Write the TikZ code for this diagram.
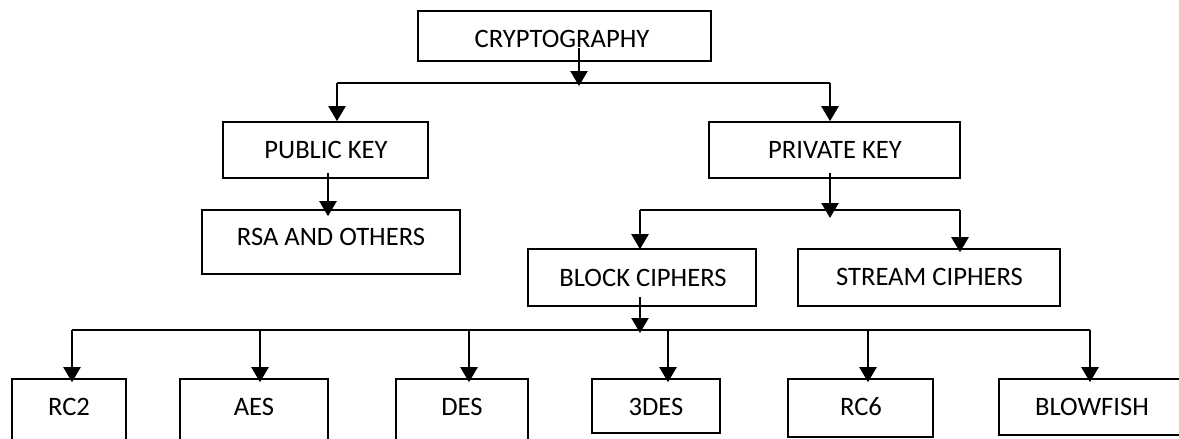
\documentclass[tikz,border=0pt]{standalone}
\usepackage{fontspec}
\setmainfont{Carlito}
\usetikzlibrary{arrows.meta}
\begin{document}
\begin{tikzpicture}[x=1pt,y=-1pt,
  box/.style={draw=black, line width=1.6pt, rectangle, inner sep=0pt},
  lbl/.style={inner sep=0pt, font=\fontsize{26.6}{30}\selectfont, anchor=center},
  link/.style={line width=1.4pt},
  arr/.style={line width=2.3pt, -{Triangle[width=17pt,length=15pt]}}]
\clip (0,0) rectangle (1179,439);
\fill[white] (0,0) rectangle (1179,439);
% boxes
\node[box, minimum width=293pt, minimum height=50pt] (crypto) at (564.5,36) {};
\node[box, minimum width=205pt, minimum height=56pt] (pub) at (325.5,150) {};
\node[box, minimum width=251pt, minimum height=56pt] (priv) at (834.5,150) {};
\node[box, minimum width=258pt, minimum height=64pt] (rsa) at (331,242) {};
\node[box, minimum width=228pt, minimum height=57pt] (block) at (642,277.5) {};
\node[box, minimum width=262pt, minimum height=57pt] (stream) at (929,277.5) {};
\node[box, minimum width=114pt, minimum height=71pt] (rc2) at (69,414.5) {};
\node[box, minimum width=148pt, minimum height=71pt] (aes) at (254,414.5) {};
\node[box, minimum width=132pt, minimum height=71pt] (des) at (462,414.5) {};
\node[box, minimum width=128pt, minimum height=54pt] (tdes) at (656,406) {};
\node[box, minimum width=145pt, minimum height=58pt] (rc6) at (860.5,408) {};
\node[box, minimum width=191pt, minimum height=56pt] (blow) at (1094.5,407) {};
% labels
\node[lbl] (cryptoT) at (562,39) {CRYPTOGRAPHY};
\node[lbl] (pubT) at (326,150) {PUBLIC KEY};
\node[lbl] (privT) at (835,150) {PRIVATE KEY};
\node[lbl] (rsaT) at (331,237) {RSA AND OTHERS};
\node[lbl] (blockT) at (643,278) {BLOCK CIPHERS};
\node[lbl] (streamT) at (929.5,277) {STREAM CIPHERS};
\node[lbl] (rc2T) at (69,407) {RC2};
\node[lbl] (aesT) at (254,407) {AES};
\node[lbl] (desT) at (462,407) {DES};
\node[lbl] (tdesT) at (656,407) {3DES};
\node[lbl] (rc6T) at (861,407) {RC6};
\node[lbl] (blowT) at (1092,407) {BLOWFISH};
% coordinates
\coordinate (t0) at (579,48);
\coordinate (tJ) at (579,86);
\coordinate (tL) at (337,83);
\coordinate (tR) at (830,83);
\coordinate (p0) at (328,173);
\coordinate (q0) at (830,173);
\coordinate (qJ) at (830,218);
\coordinate (mL) at (640,210);
\coordinate (mR) at (960,210);
\coordinate (b0) at (640,297);
\coordinate (bJ) at (640,333);
\coordinate (d1) at (72,330);
\coordinate (d2) at (260,330);
\coordinate (d3) at (469,330);
\coordinate (d4) at (668,330);
\coordinate (d5) at (868,330);
\coordinate (d6) at (1090,330);
% connectors
\draw[link] (tL) -- (tR);
\draw[arr] (t0) -- (tJ);
\draw[arr] (tL) -- (tL |- pub.north);
\draw[arr] (tR) -- (tR |- priv.north);
\draw[arr, shorten >=-7pt] (p0) -- (p0 |- rsa.north);
\draw[link] (mL) -- (mR);
\draw[arr] (q0) -- (qJ);
\draw[arr, shorten >=-1pt] (mL) -- (mL |- block.north);
\draw[arr, shorten >=-4pt] (mR) -- (mR |- stream.north);
\draw[link] (d1) -- (d6);
\draw[arr] (b0) -- (bJ);
\draw[arr, shorten >=-4pt] (d1) -- (d1 |- rc2.north);
\draw[arr, shorten >=-4pt] (d2) -- (d2 |- aes.north);
\draw[arr, shorten >=-4pt] (d3) -- (d3 |- des.north);
\draw[arr, shorten >=-4pt] (d4) -- (d4 |- tdes.north);
\draw[arr, shorten >=-4pt] (d5) -- (d5 |- rc6.north);
\draw[arr, shorten >=-4pt] (d6) -- (d6 |- blow.north);
\end{tikzpicture}
\end{document}
